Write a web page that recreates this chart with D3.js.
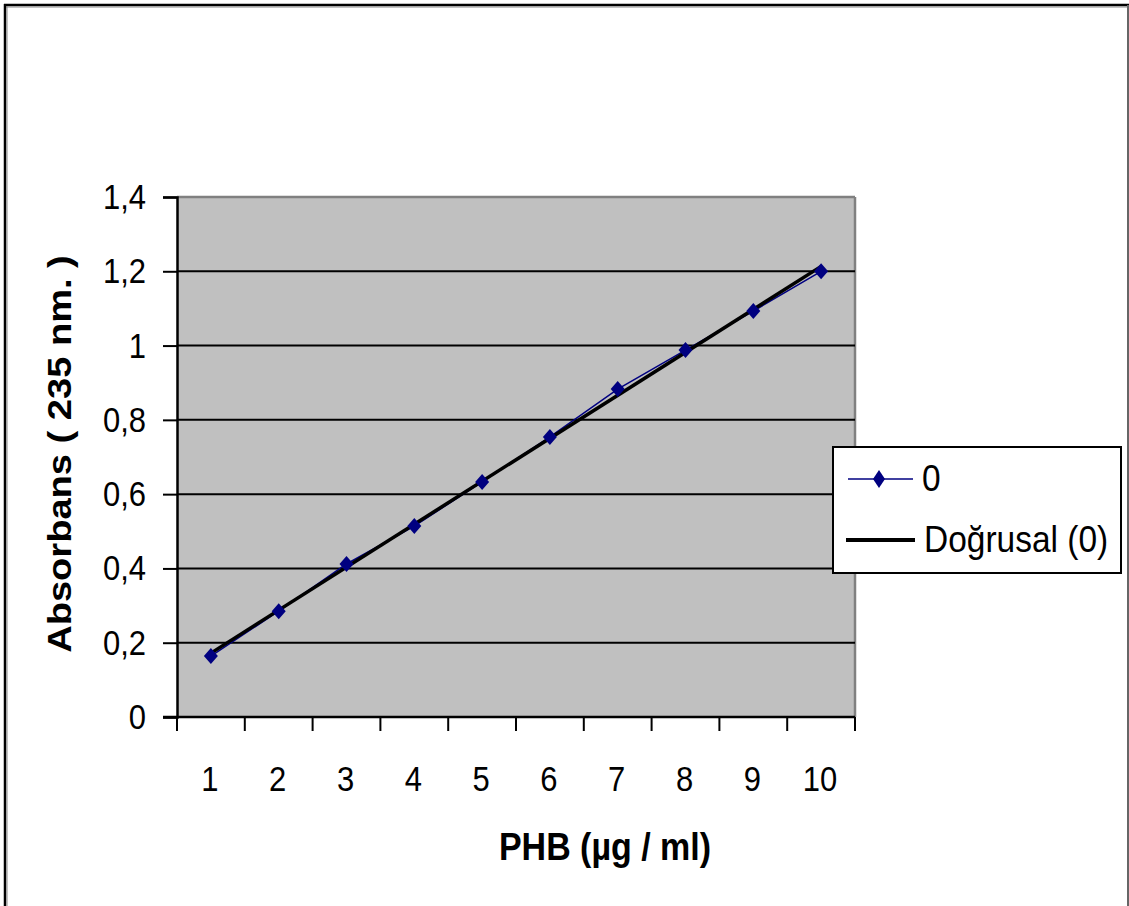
<!DOCTYPE html>
<html><head><meta charset="utf-8">
<script src="https://cdn.jsdelivr.net/npm/d3@7"></script>
<style>html,body{margin:0;padding:0;background:#fff;}svg{display:block;font-family:"Liberation Sans",Arial,sans-serif;}</style>
</head><body>
<svg id="c" width="1129" height="906"></svg>
<script>
const categories = ["1","2","3","4","5","6","7","8","9","10"];
const absorbance = [0.164, 0.285, 0.412, 0.514, 0.633, 0.754, 0.883, 0.988, 1.093, 1.200];
const yTicks = [0, 0.2, 0.4, 0.6, 0.8, 1.0, 1.2, 1.4];
const seriesName = "0";
const trendName = "Doğrusal (0)";

const SY = 1.12; // vertical stretch of text
const svg = d3.select("#c");
// outer frame
svg.append("rect").attr("x",0).attr("y",0).attr("width",1129).attr("height",906).attr("fill","#fff");
svg.append("line").attr("x1",4).attr("x2",1129).attr("y1",5).attr("y2",5).attr("stroke","#000").attr("stroke-width",2.5);
svg.append("line").attr("x1",4).attr("x2",1129).attr("y1",7).attr("y2",7).attr("stroke","#888").attr("stroke-width",1);
svg.append("line").attr("x1",5).attr("x2",5).attr("y1",4).attr("y2",906).attr("stroke","#000").attr("stroke-width",2.5);
svg.append("line").attr("x1",7).attr("x2",7).attr("y1",6).attr("y2",906).attr("stroke","#888").attr("stroke-width",1);
svg.append("line").attr("x1",1128).attr("x2",1128).attr("y1",5).attr("y2",906).attr("stroke","#666").attr("stroke-width",2);

const L=177, R=855, T=197, B=717;
const x = d3.scaleBand().domain(categories).range([L,R]).paddingInner(0).paddingOuter(0);
const y = d3.scaleLinear().domain([0,1.4]).range([B,T]);

function stretchedText(g, tx, ty, str, size, anchor, weight){
  return g.append("text").attr("transform",`translate(${tx},${ty}) scale(1,${SY})`)
    .attr("text-anchor",anchor).attr("font-size",size).attr("font-weight",weight||"normal")
    .attr("fill","#000").text(str);
}

// plot area
svg.append("rect").attr("x",L).attr("y",T).attr("width",R-L).attr("height",B-T).attr("fill","#c0c0c0");
svg.append("line").attr("x1",L).attr("x2",R).attr("y1",T).attr("y2",T).attr("stroke","#808080").attr("stroke-width",2.5);
svg.append("line").attr("x1",R).attr("x2",R).attr("y1",T).attr("y2",B).attr("stroke","#808080").attr("stroke-width",2.5);

// gridlines
svg.append("g").selectAll("line").data(yTicks.filter(d=>d>0 && d<1.4)).join("line")
  .attr("x1",L).attr("x2",R).attr("y1",d=>y(d)).attr("y2",d=>y(d))
  .attr("stroke","#000").attr("stroke-width",2);

// y axis
const fmt = d=>String(+d.toFixed(1)).replace(".",",");
const yAxis = d3.axisLeft(y).tickValues(yTicks).tickSize(14).tickFormat(()=>"");
const ga = svg.append("g").attr("transform",`translate(${L},0)`).call(yAxis);
ga.select(".domain").attr("stroke","#000").attr("stroke-width",2.5);
ga.selectAll(".tick line").attr("stroke","#000").attr("stroke-width",2);
const yl = svg.append("g");
yTicks.forEach(v=>stretchedText(yl, 146, y(v)+12, fmt(v), 31, "end"));

// x axis
const boundaries = d3.range(categories.length+1).map(i=>L+i*x.bandwidth());
svg.append("line").attr("x1",L-14).attr("x2",R).attr("y1",B).attr("y2",B).attr("stroke","#000").attr("stroke-width",2.5);
svg.append("g").selectAll("line").data(boundaries).join("line")
  .attr("x1",d=>d).attr("x2",d=>d).attr("y1",B).attr("y2",B+14).attr("stroke","#000").attr("stroke-width",2);
const xl = svg.append("g");
categories.forEach(c=>stretchedText(xl, x(c)+x.bandwidth()/2-1, 791, c, 31, "middle"));

// axis titles
stretchedText(svg, 605, 860, "PHB (µg / ml)", 34, "middle", "bold");
svg.append("text").attr("transform",`translate(71,454) rotate(-90) scale(${SY},1)`).attr("text-anchor","middle")
  .attr("font-size",34).attr("font-weight","bold").text("Absorbans ( 235 nm. )");

// series line
const cx = d=>x(d)+x.bandwidth()/2;
const pts = categories.map((c,i)=>[cx(c), y(absorbance[i])]);
svg.append("path").attr("d",d3.line()(pts)).attr("fill","none").attr("stroke","#000080").attr("stroke-width",1.5);

// trendline (linear regression)
const n = absorbance.length;
const xs = d3.range(1,n+1);
const mx = d3.mean(xs), my = d3.mean(absorbance);
const slope = d3.sum(xs.map((v,i)=>(v-mx)*(absorbance[i]-my)))/d3.sum(xs.map(v=>(v-mx)*(v-mx)));
const icpt = my - slope*mx;
svg.append("line").attr("x1",cx(categories[0])).attr("y1",y(icpt+slope*1))
  .attr("x2",cx(categories[n-1])).attr("y2",y(icpt+slope*n))
  .attr("stroke","#000").attr("stroke-width",3.5);

// markers
const dia = "M0,-8L7,0L0,8L-7,0Z";
svg.append("g").selectAll("path").data(pts).join("path")
  .attr("transform",d=>`translate(${d[0]},${d[1]})`).attr("d",dia).attr("fill","#000080");

// legend
const lg = svg.append("g");
lg.append("rect").attr("x",833).attr("y",447).attr("width",288).attr("height",126).attr("fill","#fff").attr("stroke","#000").attr("stroke-width",2);
lg.append("line").attr("x1",848).attr("x2",913).attr("y1",479).attr("y2",479).attr("stroke","#000080").attr("stroke-width",1.5);
lg.append("path").attr("transform","translate(879,479)").attr("d","M0,-9L6,0L0,9L-6,0Z").attr("fill","#000080");
stretchedText(lg, 922, 491, seriesName, 33.5, "start");
lg.append("line").attr("x1",846).attr("x2",915).attr("y1",540).attr("y2",540).attr("stroke","#000").attr("stroke-width",4);
stretchedText(lg, 924, 552, trendName, 33.5, "start");
</script>
</body></html>
